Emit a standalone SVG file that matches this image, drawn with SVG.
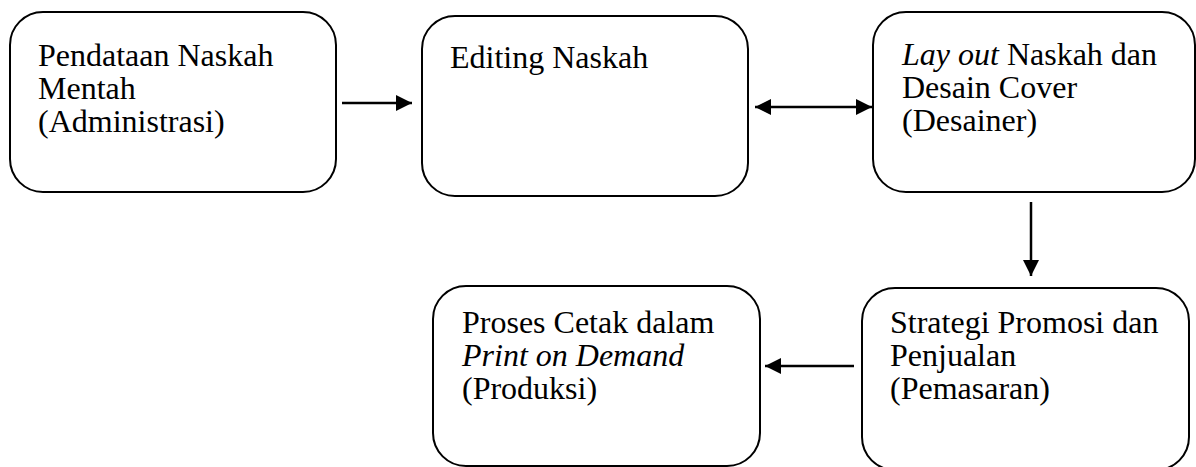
<svg xmlns="http://www.w3.org/2000/svg" width="1196" height="467" viewBox="0 0 1196 467">
<defs>
<style>
.box{fill:#fff;stroke:#000;stroke-width:2}
.t{font-family:"Liberation Serif","Times New Roman",serif;font-size:32px;fill:#000}
.i{font-style:italic}
.c{stroke:#000;stroke-width:2.5;fill:none}
</style>
<marker id="ah" viewBox="0 0 16 16" refX="16" refY="8" markerUnits="userSpaceOnUse" markerWidth="16" markerHeight="16" orient="auto-start-reverse">
<path d="M0,0 L16,8 L0,16 Z" fill="#000"/>
</marker>
</defs>
<g id="connectors">
<line class="c" x1="342" y1="103" x2="412" y2="103" marker-end="url(#ah)"/>
<line class="c" x1="755" y1="107" x2="872" y2="107" marker-start="url(#ah)" marker-end="url(#ah)"/>
<line class="c" x1="1031" y1="202" x2="1031" y2="276" marker-end="url(#ah)"/>
<line class="c" x1="854" y1="366" x2="765" y2="366" marker-end="url(#ah)"/>
</g>
<g id="n1">
<rect class="box" x="10" y="12" width="326" height="180" rx="33"/>
<text class="t" x="38" y="66">Pendataan Naskah</text>
<text class="t" x="38" y="99">Mentah</text>
<text class="t" x="38" y="132">(Administrasi)</text>
</g>
<g id="n2">
<rect class="box" x="422" y="16" width="326" height="180" rx="33"/>
<text class="t" x="450" y="68">Editing Naskah</text>
</g>
<g id="n3">
<rect class="box" x="873" y="12" width="322" height="180" rx="33"/>
<text class="t" x="902" y="65"><tspan class="i">Lay out</tspan> Naskah dan</text>
<text class="t" x="902" y="98">Desain Cover</text>
<text class="t" x="902" y="131">(Desainer)</text>
</g>
<g id="n4">
<rect class="box" x="433" y="286" width="327" height="180" rx="33"/>
<text class="t" x="462" y="333">Proses Cetak dalam</text>
<text class="t i" x="462" y="366">Print on Demand</text>
<text class="t" x="462" y="399">(Produksi)</text>
</g>
<g id="n5">
<rect class="box" x="862" y="288" width="327" height="182" rx="33"/>
<text class="t" x="890" y="333">Strategi Promosi dan</text>
<text class="t" x="890" y="366">Penjualan</text>
<text class="t" x="890" y="399">(Pemasaran)</text>
</g>
</svg>
